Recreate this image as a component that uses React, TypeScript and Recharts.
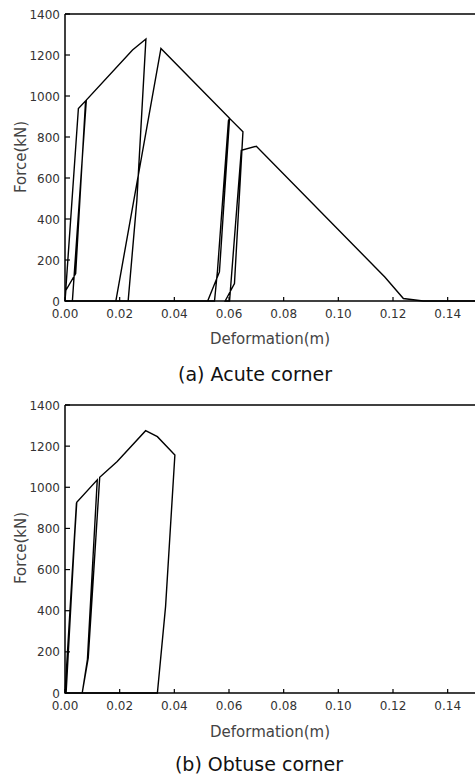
import React from 'react';
import { LineChart, Line, XAxis, YAxis, ReferenceLine } from 'recharts';

const xTicks = [0, 0.02, 0.04, 0.06, 0.08, 0.1, 0.12, 0.14];
const yTicks = [0, 200, 400, 600, 800, 1000, 1200, 1400];

const acuteDeformation = [
  0, 0.0049, 0.0078, 0.0027, 0, 0.0003, 0.0039, 0.0075, 0.0078, 0.0247, 0.0296, 0.0263, 0.0231, 0,
  0.0186, 0.0351, 0.0602, 0.0565, 0.0522, 0, 0.0547, 0.0558, 0.0598, 0.0602, 0.0651, 0.062, 0.0586,
  0.0602, 0.0645, 0.07, 0.117, 0.1238, 0.131, 0.15,
];
const acuteForce = [
  0, 939, 980, 0, 0, 52, 134, 970, 980, 1224, 1278, 492, 0, 0,
  0, 1232, 891, 142, 0, 0, 0, 150, 880, 891, 825, 85, 0,
  0, 735, 755, 117, 12, 0, 0,
];

const obtuseDeformation = [
  0, 0.0042, 0.0004, 0, 0.0043, 0.0118, 0.0082, 0.0063, 0.0085, 0.0127, 0.0191, 0.0295, 0.0338,
  0.0402, 0.0368, 0.0338, 0,
];
const obtuseForce = [
  0, 925, 0, 0, 927, 1036, 162, 0, 170, 1049, 1125, 1275, 1246,
  1157, 421, 0, 0,
];

const acuteData = acuteDeformation.map((x, i) => ({ x, y: acuteForce[i] }));
const obtuseData = obtuseDeformation.map((x, i) => ({ x, y: obtuseForce[i] }));

const FONT = '"DejaVu Sans", "Liberation Sans", sans-serif';

const XTick = (props: any) => {
  const { x, y, payload } = props;
  return (
    <g>
      <line x1={x} x2={x} y1={y} y2={y - 4} stroke="#000" strokeWidth={1.2} />
      <text x={x} y={y + 17} textAnchor="middle" fontFamily={FONT} fontSize={12} fill="#333">
        {Number(payload.value).toFixed(2)}
      </text>
    </g>
  );
};

const YTick = (props: any) => {
  const { x, y, payload } = props;
  return (
    <g>
      <line x1={x + 5} x2={x + 10} y1={y} y2={y} stroke="#000" strokeWidth={1.2} />
      <text x={x} y={y + 4.5} textAnchor="end" fontFamily={FONT} fontSize={12} fill="#333">
        {payload.value}
      </text>
    </g>
  );
};

function Panel({ data, top, plotHeight }: { data: { x: number; y: number }[]; top: number; plotHeight: number }) {
  const h = 14 + plotHeight + 30;
  return (
    <div style={{ position: 'absolute', left: 0, top, width: 475, height: h }}>
      <LineChart width={475} height={h} data={data} margin={{ top: 14, right: 0, bottom: 0, left: 0 }}>
        <XAxis
          dataKey="x"
          type="number"
          domain={[0, 0.15]}
          ticks={xTicks}
          height={30}
          tickSize={0}
          tickMargin={0}
          tickLine={false}
          interval={0}
          tick={<XTick />}
          axisLine={{ stroke: '#000', strokeWidth: 1.5 }}
        />
        <YAxis
          type="number"
          domain={[0, 1400]}
          ticks={yTicks}
          width={65}
          tickSize={0}
          tickMargin={5}
          tickLine={false}
          interval={0}
          tick={<YTick />}
          axisLine={{ stroke: '#000', strokeWidth: 1.5 }}
        />
        <ReferenceLine y={1400} stroke="#000" strokeWidth={1.5} />
        <Line
          dataKey="y"
          type="linear"
          stroke="#000"
          strokeWidth={1.4}
          dot={false}
          isAnimationActive={false}
        />
      </LineChart>
    </div>
  );
}

const textBase: React.CSSProperties = {
  position: 'absolute',
  fontFamily: FONT,
  whiteSpace: 'nowrap',
  textAlign: 'center',
};

export default function App() {
  return (
    <div style={{ position: 'absolute', left: 0, top: 0, width: 475, height: 776, overflow: 'hidden', background: '#fff' }}>
      <Panel data={acuteData} top={0} plotHeight={287} />
      <Panel data={obtuseData} top={391} plotHeight={288} />

      <div style={{ ...textBase, left: -29, top: 147, width: 100, height: 20, lineHeight: '20px', fontSize: 15, color: '#444', transform: 'rotate(-90deg)' }}>
        Force(kN)
      </div>
      <div style={{ ...textBase, left: -29, top: 538, width: 100, height: 20, lineHeight: '20px', fontSize: 15, color: '#444', transform: 'rotate(-90deg)' }}>
        Force(kN)
      </div>

      <div style={{ ...textBase, left: 170, top: 332, width: 200, lineHeight: '15px', fontSize: 15, color: '#444' }}>
        Deformation(m)
      </div>
      <div style={{ ...textBase, left: 170, top: 725, width: 200, lineHeight: '15px', fontSize: 15, color: '#444' }}>
        Deformation(m)
      </div>

      <div style={{ ...textBase, left: 135, top: 365, width: 240, lineHeight: '19px', fontSize: 19, color: '#111' }}>
        (a) Acute corner
      </div>
      <div style={{ ...textBase, left: 139, top: 755, width: 240, lineHeight: '19px', fontSize: 19, color: '#111' }}>
        (b) Obtuse corner
      </div>
    </div>
  );
}
